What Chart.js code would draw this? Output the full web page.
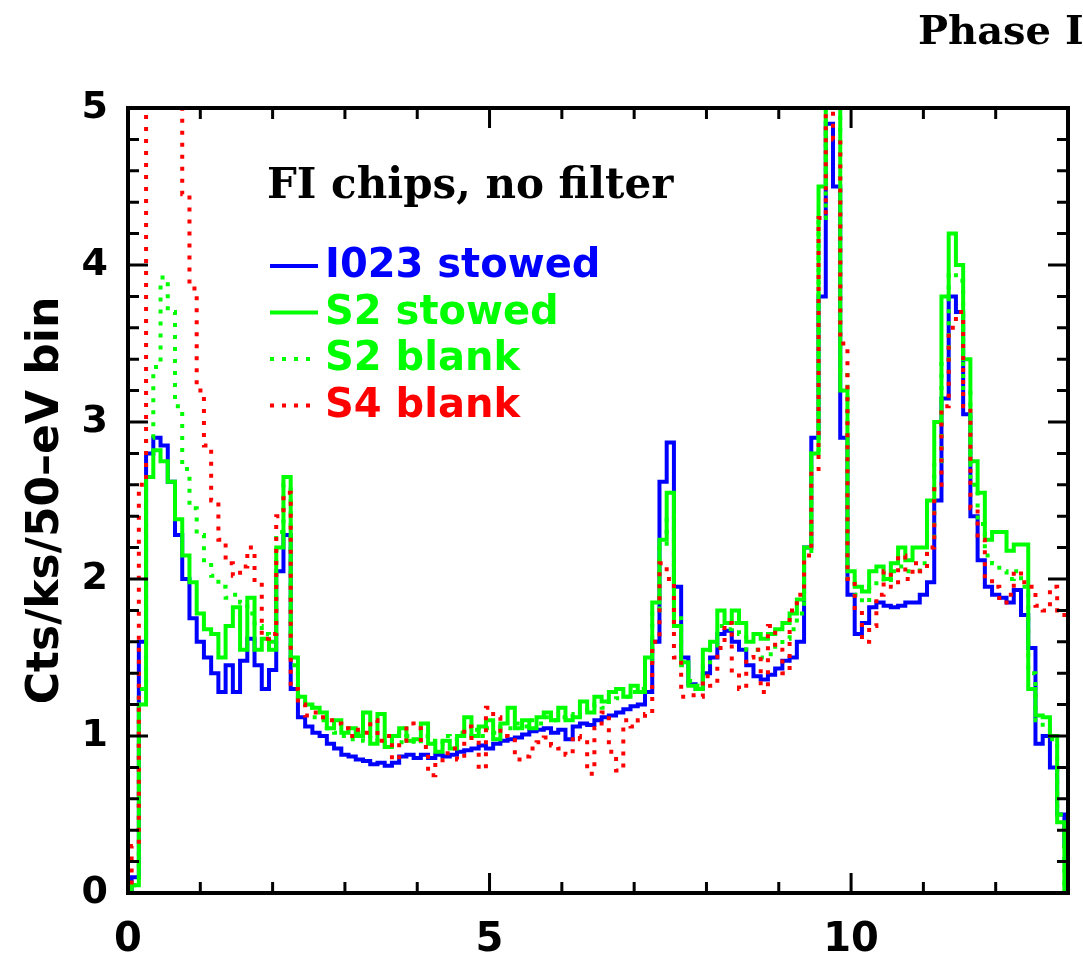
<!DOCTYPE html>
<html>
<head>
<meta charset="utf-8">
<script src="https://cdn.jsdelivr.net/npm/chart.js@4.4.1/dist/chart.umd.min.js"></script>
<style>
  html, body { margin: 0; padding: 0; background: #fff; }
</style>
</head>
<body>
<canvas id="spectrum-chart" width="1083" height="953"></canvas>
<script>
// Energy grid (keV), one value per 0.1 keV
const energy = [
  0.0, 0.1, 0.2, 0.3, 0.4, 0.5, 0.6, 0.7, 0.8, 0.9,
  1.0, 1.1, 1.2, 1.3, 1.4, 1.5, 1.6, 1.7, 1.8, 1.9,
  2.0, 2.1, 2.2, 2.3, 2.4, 2.5, 2.6, 2.7, 2.8, 2.9,
  3.0, 3.1, 3.2, 3.3, 3.4, 3.5, 3.6, 3.7, 3.8, 3.9,
  4.0, 4.1, 4.2, 4.3, 4.4, 4.5, 4.6, 4.7, 4.8, 4.9,
  5.0, 5.1, 5.2, 5.3, 5.4, 5.5, 5.6, 5.7, 5.8, 5.9,
  6.0, 6.1, 6.2, 6.3, 6.4, 6.5, 6.6, 6.7, 6.8, 6.9,
  7.0, 7.1, 7.2, 7.3, 7.4, 7.5, 7.6, 7.7, 7.8, 7.9,
  8.0, 8.1, 8.2, 8.3, 8.4, 8.5, 8.6, 8.7, 8.8, 8.9,
  9.0, 9.1, 9.2, 9.3, 9.4, 9.5, 9.6, 9.7, 9.8, 9.9,
  10.0, 10.1, 10.2, 10.3, 10.4, 10.5, 10.6, 10.7, 10.8, 10.9,
  11.0, 11.1, 11.2, 11.3, 11.4, 11.5, 11.6, 11.7, 11.8, 11.9,
  12.0, 12.1, 12.2, 12.3, 12.4, 12.5, 12.6, 12.7, 12.8, 12.9,
  13.0
];

// Cts/ks/50-eV bin
const i023Stowed = [
  0, 0.1, 1.6, 2.8, 2.9, 2.85, 2.62, 2.28, 2.0, 1.75,
  1.6, 1.5, 1.4, 1.28, 1.45, 1.28, 1.48, 1.62, 1.45, 1.3,
  1.42, 2.05, 2.28, 1.3, 1.12, 1.06, 1.02, 1.0, 0.95, 0.92,
  0.88, 0.87, 0.85, 0.84, 0.82, 0.83, 0.81, 0.83, 0.87, 0.88,
  0.86, 0.88, 0.86, 0.88, 0.87, 0.88, 0.9, 0.91, 0.92, 0.94,
  0.92, 0.95, 0.97, 0.98, 0.99, 1.01, 1.03, 1.04, 1.05, 1.02,
  1.04, 0.98, 1.06, 1.08, 1.07, 1.1, 1.12, 1.13, 1.15, 1.17,
  1.19, 1.2, 1.28, 1.6, 2.62, 2.87, 1.95, 1.5, 1.33, 1.3,
  1.4, 1.5, 1.65, 1.67, 1.6, 1.55, 1.45, 1.38, 1.36, 1.39,
  1.43, 1.48, 1.5, 1.6, 2.2, 2.9, 3.8, 4.9, 4.5, 2.9,
  1.9, 1.65, 1.72, 1.82, 1.85, 1.83, 1.82, 1.83, 1.85, 1.85,
  1.9, 1.98, 2.5, 3.15, 3.8, 3.7, 3.05, 2.4, 2.12, 1.95,
  1.9, 1.88, 1.85, 1.93, 1.77, 1.56, 0.95, 1.0, 0.8, 0.5,
  0.3
];

const s2Stowed = [
  0, 0.05, 1.2, 2.65, 2.82, 2.75, 2.62, 2.38, 2.15, 1.98,
  1.78, 1.68, 1.65, 1.5, 1.7, 1.82, 1.55, 1.88, 1.55, 1.62,
  1.55, 2.2, 2.65, 1.5, 1.25, 1.2, 1.18, 1.15, 1.05, 1.1,
  1.02, 1.05, 1.0, 1.15, 0.95, 1.14, 0.93, 1.0, 1.05, 0.97,
  0.98, 1.08, 0.95, 0.9, 0.97, 0.92, 1.0, 1.12, 1.0, 1.06,
  1.1, 0.98, 1.08, 1.18, 1.05, 1.1, 1.05, 1.12, 1.15, 1.1,
  1.18, 1.1, 1.12, 1.22, 1.15, 1.25, 1.22, 1.28, 1.3, 1.25,
  1.32, 1.28, 1.5, 1.85, 2.25, 2.55, 1.7, 1.47, 1.32, 1.3,
  1.55, 1.6, 1.8, 1.72, 1.8, 1.72, 1.6, 1.65, 1.62, 1.65,
  1.68, 1.72, 1.78, 1.87, 2.2, 2.8, 4.5, 5.5, 5.2, 3.2,
  2.05, 1.95, 1.92, 2.05, 2.08, 2.0, 2.1, 2.2, 2.12, 2.2,
  2.2, 2.5, 3.0, 3.8, 4.2, 4.0, 3.4, 2.75, 2.55, 2.25,
  2.3, 2.3, 2.18, 2.22, 2.22, 1.3, 1.13, 1.12, 1.0, 0.45,
  0.02
];

const s2Blank = [
  0, 0.05, 1.3, 2.9, 3.35, 3.92, 3.7, 3.1, 2.7, 2.45,
  2.28, 2.12, 2.02, 1.95, 1.88, 1.9, 1.85, 1.78, 1.7, 1.65,
  1.6, 2.3, 2.6, 1.45, 1.25, 1.18, 1.12, 1.1, 1.05, 1.02,
  1.0, 0.98, 1.02, 0.97, 1.0, 0.95, 0.98, 1.02, 0.96, 1.0,
  0.95, 1.0, 0.97, 0.95, 1.0, 0.98, 1.02, 1.0, 1.04, 1.0,
  1.05, 1.02, 1.06, 1.05, 1.08, 1.06, 1.1, 1.08, 1.12, 1.1,
  1.12, 1.14, 1.12, 1.16, 1.18, 1.2, 1.18, 1.22, 1.24, 1.25,
  1.28, 1.3, 1.45, 1.8, 2.2, 2.4, 1.75, 1.45, 1.35, 1.32,
  1.45, 1.55, 1.7, 1.68, 1.72, 1.65, 1.55, 1.55, 1.5, 1.52,
  1.58, 1.62, 1.68, 1.78, 2.15, 2.8, 4.3, 5.3, 5.0, 3.3,
  2.0, 1.9, 1.85, 1.95, 2.0, 1.98, 2.05, 2.08, 2.05, 2.05,
  2.1, 2.25, 2.75, 3.4, 3.95, 3.9, 3.2, 2.6, 2.35, 2.15,
  2.1, 2.05, 2.0, 2.05, 1.95, 1.4, 1.1, 1.05, 0.98, 0.5,
  0.05
];

const s4Blank = [
  0, 0.3, 2.6, 5.5, 6, 6, 6, 5.5, 4.45, 3.85,
  3.2, 2.85, 2.5, 2.25, 2.1, 2.02, 2.08, 2.2, 1.98, 1.62,
  1.65, 2.4, 2.55, 1.3, 1.2, 1.13, 1.15, 1.12, 1.1, 1.08,
  1.05, 1.0, 1.04, 1.02, 1.1, 0.97, 1.0, 0.85, 0.97, 1.08,
  1.05, 0.93, 0.75, 0.83, 0.89, 0.92, 0.85, 1.06, 0.97, 0.79,
  1.18, 1.12, 1.0, 0.99, 0.85, 0.87, 0.92, 0.96, 0.99, 0.94,
  0.92, 0.88, 1.0, 0.98, 0.76, 1.05, 1.15, 0.9, 0.78, 1.1,
  1.06, 1.1, 1.14, 1.6, 2.1, 2.0, 1.5, 1.25, 1.26, 1.25,
  1.38, 1.32, 1.56, 1.72, 1.4, 1.3, 1.5, 1.55, 1.28, 1.7,
  1.55, 1.4, 1.8, 1.9, 2.15, 2.7, 4.3, 5.2, 4.8, 3.5,
  2.0, 1.8, 1.6, 1.7, 1.9, 2.05, 1.95, 2.15, 2.0, 2.1,
  2.05, 2.2, 2.6, 3.1, 3.6, 3.7, 3.1, 2.45, 2.25, 2.0,
  1.95, 1.85, 1.9, 2.05, 1.98, 1.95, 1.83, 1.8, 1.95, 1.8,
  1.75
];

const seriesLabels = ['I023 stowed', 'S2 stowed', 'S2 blank', 'S4 blank'];
const panelNote = 'FI chips, no filter';
const pageTitle = 'Phase I';
const yAxisTitle = 'Cts/ks/50\u2013eV bin';

function points(values) {
    return energy.map((e, i) => ({ x: e, y: values[i] }));
}

// Frame with inward ticks on all four sides
const frameTicks = {
    id: 'frameTicks',
    afterDatasetsDraw(chart) {
        const { ctx, chartArea: a, scales: { x, y } } = chart;
        ctx.save();
        ctx.strokeStyle = '#000';
        ctx.lineWidth = 3;
        ctx.beginPath();
        for (let v = 0; v <= 13; v++) {
            const px = x.getPixelForValue(v);
            const len = v % 5 === 0 ? 20 : 11;
            ctx.moveTo(px, a.bottom); ctx.lineTo(px, a.bottom - len);
            ctx.moveTo(px, a.top); ctx.lineTo(px, a.top + len);
        }
        for (let k = 0; k <= 25; k++) {
            const py = y.getPixelForValue(k / 5);
            const len = k % 5 === 0 ? 20 : 11;
            ctx.moveTo(a.left, py); ctx.lineTo(a.left + len, py);
            ctx.moveTo(a.right, py); ctx.lineTo(a.right - len, py);
        }
        ctx.stroke();
        ctx.lineWidth = 4;
        ctx.strokeRect(a.left, a.top, a.right - a.left, a.bottom - a.top);
        ctx.restore();
    }
};

// Legend and notes drawn inside the plot
const insideLegend = {
    id: 'insideLegend',
    afterDraw(chart) {
        const ctx = chart.ctx;
        ctx.save();
        ctx.textBaseline = 'middle';
        ctx.textAlign = 'left';
        ctx.fillStyle = '#000';
        ctx.font = 'bold 40px "DejaVu Serif"';
        ctx.fillText(pageTitle, 918, 34);
        ctx.font = 'bold 42px "DejaVu Serif"';
        ctx.fillText(panelNote, 267, 187);

        ctx.font = 'bold 40px "DejaVu Sans"';
        chart.data.datasets.forEach((ds, i) => {
            const yy = 266 + i * 46.5;
            ctx.strokeStyle = ds.borderColor;
            ctx.lineWidth = 4;
            ctx.setLineDash(ds.borderDash || []);
            ctx.beginPath();
            ctx.moveTo(270, yy);
            ctx.lineTo(318, yy);
            ctx.stroke();
            ctx.setLineDash([]);
            ctx.fillStyle = ds.borderColor;
            ctx.fillText(ds.label, 325, yy + 1);
        });
        ctx.restore();
    }
};

const baseSet = {
    pointRadius: 0,
    borderWidth: 4,
    stepped: 'middle',
    fill: false,
    clip: 0
};

const data = {
    datasets: [
        { ...baseSet, label: seriesLabels[0], data: points(i023Stowed), borderColor: '#0000ff', order: 4 },
        { ...baseSet, label: seriesLabels[1], data: points(s2Stowed), borderColor: '#00ff00', order: 3 },
        { ...baseSet, label: seriesLabels[2], data: points(s2Blank), borderColor: '#00ff00', borderDash: [4, 8], order: 2 },
        { ...baseSet, label: seriesLabels[3], data: points(s4Blank), borderColor: '#ff0000', borderDash: [4, 8], order: 1 }
    ]
};

var ctx = document.getElementById('spectrum-chart').getContext('2d');
var spectrumChart = new Chart(ctx, {
    type: 'line',
    data,
    options: {
        responsive: false,
        animation: false,
        devicePixelRatio: 1,
        layout: { padding: { top: 108, right: 15, left: 0, bottom: 0 } },
        plugins: {
            legend: { display: false },
            tooltip: { enabled: false }
        },
        scales: {
            x: {
                type: 'linear',
                min: 0,
                max: 13,
                grid: { display: false, drawTicks: false },
                border: { display: false },
                afterFit: s => { s.height = 60; },
                ticks: {
                    stepSize: 5,
                    includeBounds: false,
                    padding: 24,
                    color: '#000',
                    font: { family: 'DejaVu Sans', weight: 'bold', size: 40 }
                }
            },
            y: {
                min: 0,
                max: 5,
                grid: { display: false, drawTicks: false },
                border: { display: false },
                afterFit: s => { s.width = 128; },
                ticks: {
                    stepSize: 1,
                    padding: 20,
                    color: '#000',
                    font: { family: 'DejaVu Sans', weight: 'bold', size: 38 }
                },
                title: {
                    display: true,
                    text: yAxisTitle,
                    color: '#000',
                    padding: { top: 20, bottom: 0 },
                    font: { family: 'DejaVu Sans', weight: 'bold', size: 44 }
                }
            }
        }
    },
    plugins: [frameTicks, insideLegend]
});
</script>
</body>
</html>
